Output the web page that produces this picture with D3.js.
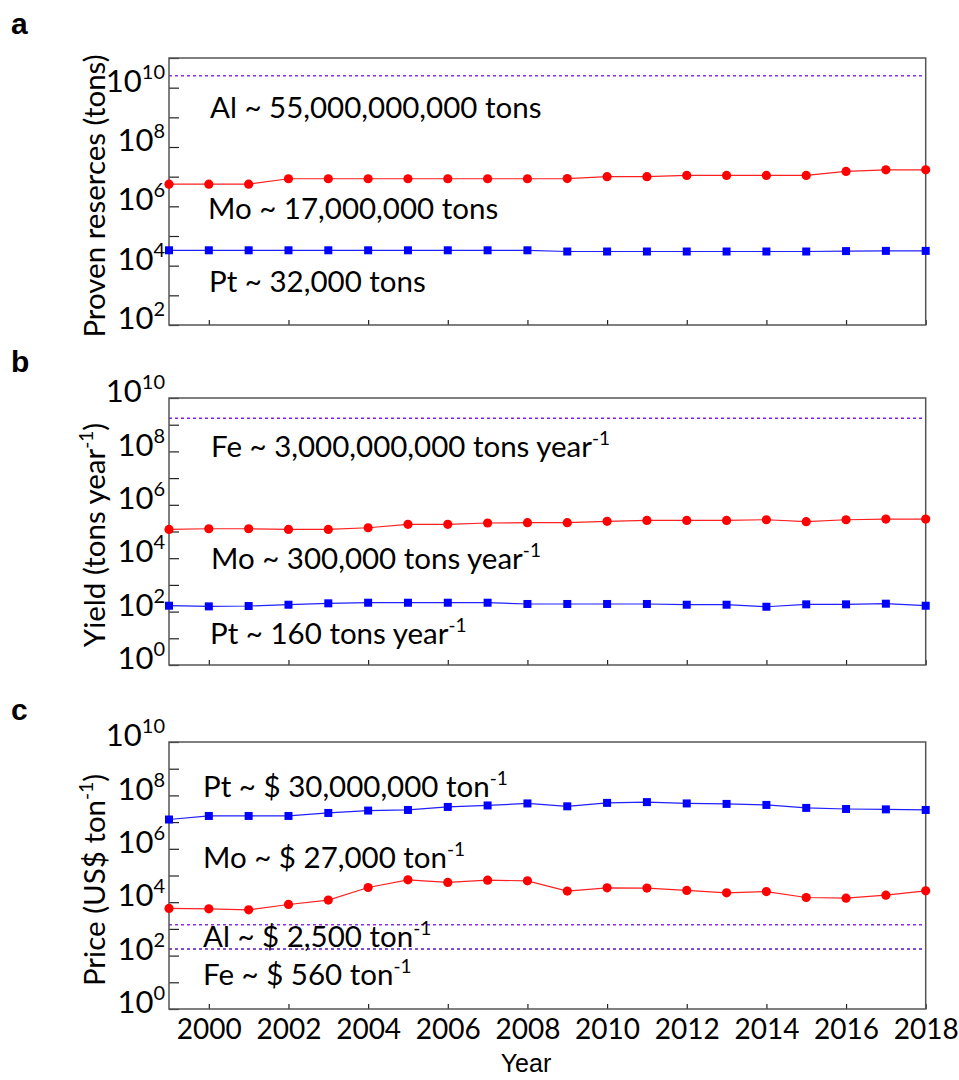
<!DOCTYPE html>
<html>
<head>
<meta charset="utf-8">
<script src="https://cdn.jsdelivr.net/npm/d3@7"></script>
<style>
body { margin: 0; background: #fff; }
text { font-family: Lato, "Open Sans", sans-serif; fill: #000; }
</style>
</head>
<body>
<svg id="fig" width="959" height="1080"></svg>
<script>
var years = [1999, 2000, 2001, 2002, 2003, 2004, 2005, 2006, 2007, 2008,
             2009, 2010, 2011, 2012, 2013, 2014, 2015, 2016, 2017, 2018];
var yearTicks = [2000, 2002, 2004, 2006, 2008, 2010, 2012, 2014, 2016, 2018];

// proven reserves (tons)
var reservesMo = [5.6e6, 5.6e6, 5.6e6, 8.5e6, 8.5e6, 8.5e6, 8.5e6, 8.5e6, 8.5e6, 8.5e6,
                  8.6e6, 1.0e7, 1.0e7, 1.1e7, 1.1e7, 1.1e7, 1.1e7, 1.5e7, 1.7e7, 1.7e7];
var reservesPt = [3.3e4, 3.3e4, 3.3e4, 3.3e4, 3.3e4, 3.3e4, 3.3e4, 3.3e4, 3.3e4, 3.3e4,
                  3.0e4, 3.0e4, 3.0e4, 3.0e4, 3.0e4, 3.0e4, 3.0e4, 3.1e4, 3.15e4, 3.15e4];
var reservesAl = 2.5e10;

// yield (tons / year)
var yieldMo = [1.2e5, 1.27e5, 1.27e5, 1.2e5, 1.2e5, 1.38e5, 1.86e5, 1.86e5, 2.08e5, 2.14e5,
               2.14e5, 2.4e5, 2.6e5, 2.6e5, 2.6e5, 2.76e5, 2.34e5, 2.76e5, 2.93e5, 2.93e5];
var yieldPt = [166, 157, 162, 181, 204, 215, 215, 215, 215, 193,
               193, 193, 193, 181, 181, 152, 187, 187, 198, 166];
var yieldFe = 1.75e9;

// price (US$ / ton)
var pricePt = [1.25e7, 1.7e7, 1.7e7, 1.7e7, 2.2e7, 2.7e7, 2.85e7, 3.7e7, 4.2e7, 5.0e7,
               3.9e7, 5.25e7, 5.6e7, 5.0e7, 4.8e7, 4.4e7, 3.4e7, 3.1e7, 3.0e7, 2.85e7];
var priceMo = [5850, 5660, 5190, 8220, 1.2e4, 3.56e4, 6.9e4, 5.5e4, 6.7e4, 6.3e4,
               2.6e4, 3.45e4, 3.37e4, 2.76e4, 2.24e4, 2.5e4, 1.5e4, 1.42e4, 1.84e4, 2.67e4];
var priceAl = 1425;
var priceFe = 176;

var left = 169, right = 925.7, plotH = 267;

var xScale = d3.scaleLinear()
    .domain([1999, 2018])
    .range([left, right]);

var panels = [
  { letter: "a", top: 58, lo: 2, hi: 11, letterY: 34,
    title: [["Proven reserces (tons)"]], titleY: 196,
    mo: reservesMo, pt: reservesPt,
    refs: [{ v: reservesAl, color: "#8c2cff" }],
    notes: [
      { parts: [["Al ~ 55,000,000,000 tons"]], x: 210, y: 118 },
      { parts: [["Mo ~ 17,000,000 tons"]], x: 208, y: 219 },
      { parts: [["Pt ~ 32,000 tons"]], x: 209, y: 292 }
    ] },
  { letter: "b", top: 398, lo: 0, hi: 10, letterY: 372,
    title: [["Yield (tons year"], ["-1", 1], [")"]], titleY: 535,
    mo: yieldMo, pt: yieldPt,
    refs: [{ v: yieldFe, color: "#8020ff" }],
    notes: [
      { parts: [["Fe ~ 3,000,000,000 tons year"], ["-1", 1]], x: 211, y: 457 },
      { parts: [["Mo ~ 300,000 tons year"], ["-1", 1]], x: 211, y: 569 },
      { parts: [["Pt ~ 160 tons year"], ["-1", 1]], x: 210, y: 644 }
    ] },
  { letter: "c", top: 742, lo: 0, hi: 10, letterY: 720,
    title: [["Price (US$ ton"], ["-1", 1], [")"]], titleY: 880,
    mo: priceMo, pt: pricePt,
    refs: [{ v: priceAl, color: "#8c2cff" }, { v: priceFe, color: "#5a10d0" }],
    notes: [
      { parts: [["Pt ~ $ 30,000,000 ton"], ["-1", 1]], x: 203, y: 797 },
      { parts: [["Mo ~ $ 27,000 ton"], ["-1", 1]], x: 203, y: 868 },
      { parts: [["Al ~ $ 2,500 ton"], ["-1", 1]], x: 203, y: 947 },
      { parts: [["Fe ~ $ 560 ton"], ["-1", 1]], x: 203, y: 985 }
    ], xLabels: true }
];

var svg = d3.select("#fig");

// text with superscripts: parts = [[str], [str, 1 for superscript]]
var addParts = (sel, parts, size, supSize, rise) => {
    var up = false;
    parts.forEach((p) => {
        var t = sel.append("tspan").text(p[0]);
        if (p[1]) {
            t.attr("font-size", supSize).attr("dy", -rise);
            up = true;
        } else {
            t.attr("font-size", size);
            if (up) { t.attr("dy", rise); up = false; }
        }
    });
};

panels.forEach((p) => {
    var bottom = p.top + plotH;
    var yScale = d3.scaleLog()
        .domain([Math.pow(10, p.lo), Math.pow(10, p.hi)])
        .range([bottom, p.top]);

    var g = svg.append("g");

    // panel letter
    g.append("text")
        .attr("x", 11)
        .attr("y", p.letterY)
        .style("font-family", "'Liberation Sans', Arial, sans-serif")
        .attr("font-weight", "bold")
        .attr("font-size", 30)
        .text(p.letter);

    // reference levels
    p.refs.forEach((r) => {
        g.append("line")
            .attr("x1", left).attr("x2", right)
            .attr("y1", yScale(r.v)).attr("y2", yScale(r.v))
            .attr("stroke", r.color)
            .attr("stroke-width", 1.5)
            .attr("stroke-dasharray", "3,3");
    });

    // y axis: every decade ticked, even decades labelled
    var exps = d3.range(p.lo, p.hi + 1);
    var yAxis = d3.axisLeft(yScale)
        .tickValues(exps.map((e) => Math.pow(10, e)))
        .tickSize(-10)
        .tickPadding(6)
        .tickFormat("");
    var ya = g.append("g")
        .attr("transform", "translate(" + left + ",0)")
        .call(yAxis);
    ya.select(".domain").remove();
    ya.selectAll(".tick line").attr("stroke", "#222").attr("stroke-width", 1.2);
    ya.selectAll(".tick text").each(function (d) {
        var e = Math.round(Math.log10(d));
        if (e % 2 !== 0) return;
        var t = d3.select(this)
            .attr("x", -4)
            .attr("dy", "0.36em")
            .attr("text-anchor", "end");
        addParts(t, [["10"], [String(e), 1]], 31, 20, 13);
    });

    // x axis ticks
    var xAxis = d3.axisBottom(xScale)
        .tickValues(yearTicks)
        .tickSize(-5)
        .tickPadding(10)
        .tickFormat(p.xLabels ? d3.format("d") : "");
    var xa = g.append("g")
        .attr("transform", "translate(0," + bottom + ")")
        .call(xAxis);
    xa.select(".domain").remove();
    xa.selectAll(".tick line").attr("stroke", "#222").attr("stroke-width", 1.2);
    xa.selectAll(".tick text")
        .attr("font-size", 28)
        .attr("fill", "#000")
        .style("font-family", "Lato, sans-serif");

    // frame
    g.append("rect")
        .attr("x", left).attr("y", p.top)
        .attr("width", right - left).attr("height", plotH)
        .attr("fill", "none")
        .attr("stroke", "#555")
        .attr("stroke-width", 1.5);

    // series
    var line = (vals) => d3.line()
        .x((d, i) => xScale(years[i]))
        .y((d) => yScale(d))(vals);

    g.append("path")
        .attr("d", line(p.mo))
        .attr("fill", "none")
        .attr("stroke", "#ff2020")
        .attr("stroke-width", 1.2);
    g.selectAll("circle.mo").data(p.mo).enter().append("circle")
        .attr("class", "mo")
        .attr("cx", (d, i) => xScale(years[i]))
        .attr("cy", (d) => yScale(d))
        .attr("r", 4.6)
        .attr("fill", "#ff0000");

    g.append("path")
        .attr("d", line(p.pt))
        .attr("fill", "none")
        .attr("stroke", "#2020ff")
        .attr("stroke-width", 1.2);
    g.selectAll("rect.pt").data(p.pt).enter().append("rect")
        .attr("class", "pt")
        .attr("x", (d, i) => xScale(years[i]) - 4)
        .attr("y", (d) => yScale(d) - 4)
        .attr("width", 8)
        .attr("height", 8)
        .attr("fill", "#0000ff");

    // annotations
    p.notes.forEach((n) => {
        var t = g.append("text").attr("x", n.x).attr("y", n.y);
        addParts(t, n.parts, 29.5, 19, 12);
    });

    // y title
    var yt = g.append("text")
        .attr("transform", "translate(105," + p.titleY + ") rotate(-90)")
        .attr("text-anchor", "middle");
    addParts(yt, p.title, 29.5, 19, 12);
});

svg.append("text")
    .attr("x", 526)
    .attr("y", 1072)
    .attr("text-anchor", "middle")
    .style("font-family", "'Liberation Sans', Arial, sans-serif")
    .attr("font-size", 25)
    .text("Year");
</script>
</body>
</html>
